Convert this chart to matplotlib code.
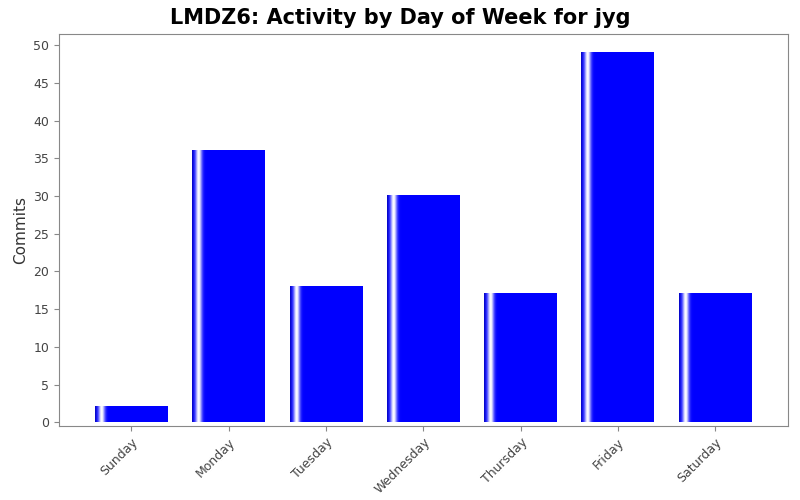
import matplotlib
matplotlib.use("Agg")
import matplotlib.pyplot as plt
import numpy as np

days = ["Sunday", "Monday", "Tuesday", "Wednesday", "Thursday", "Friday", "Saturday"]
commits = [2, 36, 18, 30, 17, 49, 17]

fig = plt.figure(figsize=(8, 5), dpi=100)
ax = fig.add_axes([0.07375, 0.148, 0.91125, 0.784])

# horizontal gradient: dark edge, white highlight, then solid blue
t = np.linspace(0, 1, 200)
hl = np.exp(-((t - 0.09) / 0.045) ** 2)
r = hl
g = hl
b = np.clip(0.75 + 0.25 * np.minimum(t / 0.06, 1) + hl, 0, 1)
grad = np.stack([r, g, b], axis=1)[None, :, :]

width = 0.75
for i, v in enumerate(commits):
    x0 = i - width / 2
    ax.imshow(grad, extent=[x0, x0 + width, 0, v], aspect="auto",
              interpolation="bilinear", zorder=2)

ax.set_xlim(-0.745, 6.75)
ax.set_ylim(-0.5, 51.5)
ax.set_xticks(range(len(days)))
ax.set_xticklabels(days, rotation=45, ha="right", rotation_mode="anchor",
                   fontsize=9, color="#444444")
ax.set_yticks(range(0, 51, 5))
ax.tick_params(axis="y", labelsize=9, labelcolor="#444444", color="#888888")
ax.tick_params(axis="x", color="#888888")
for s in ax.spines.values():
    s.set_color("#888888")
ax.set_ylabel("Commits", fontsize=11, color="#333333")
fig.suptitle("LMDZ6: Activity by Day of Week for jyg", fontsize=15,
             fontweight="bold", y=0.985)
fig.savefig("out.png")
